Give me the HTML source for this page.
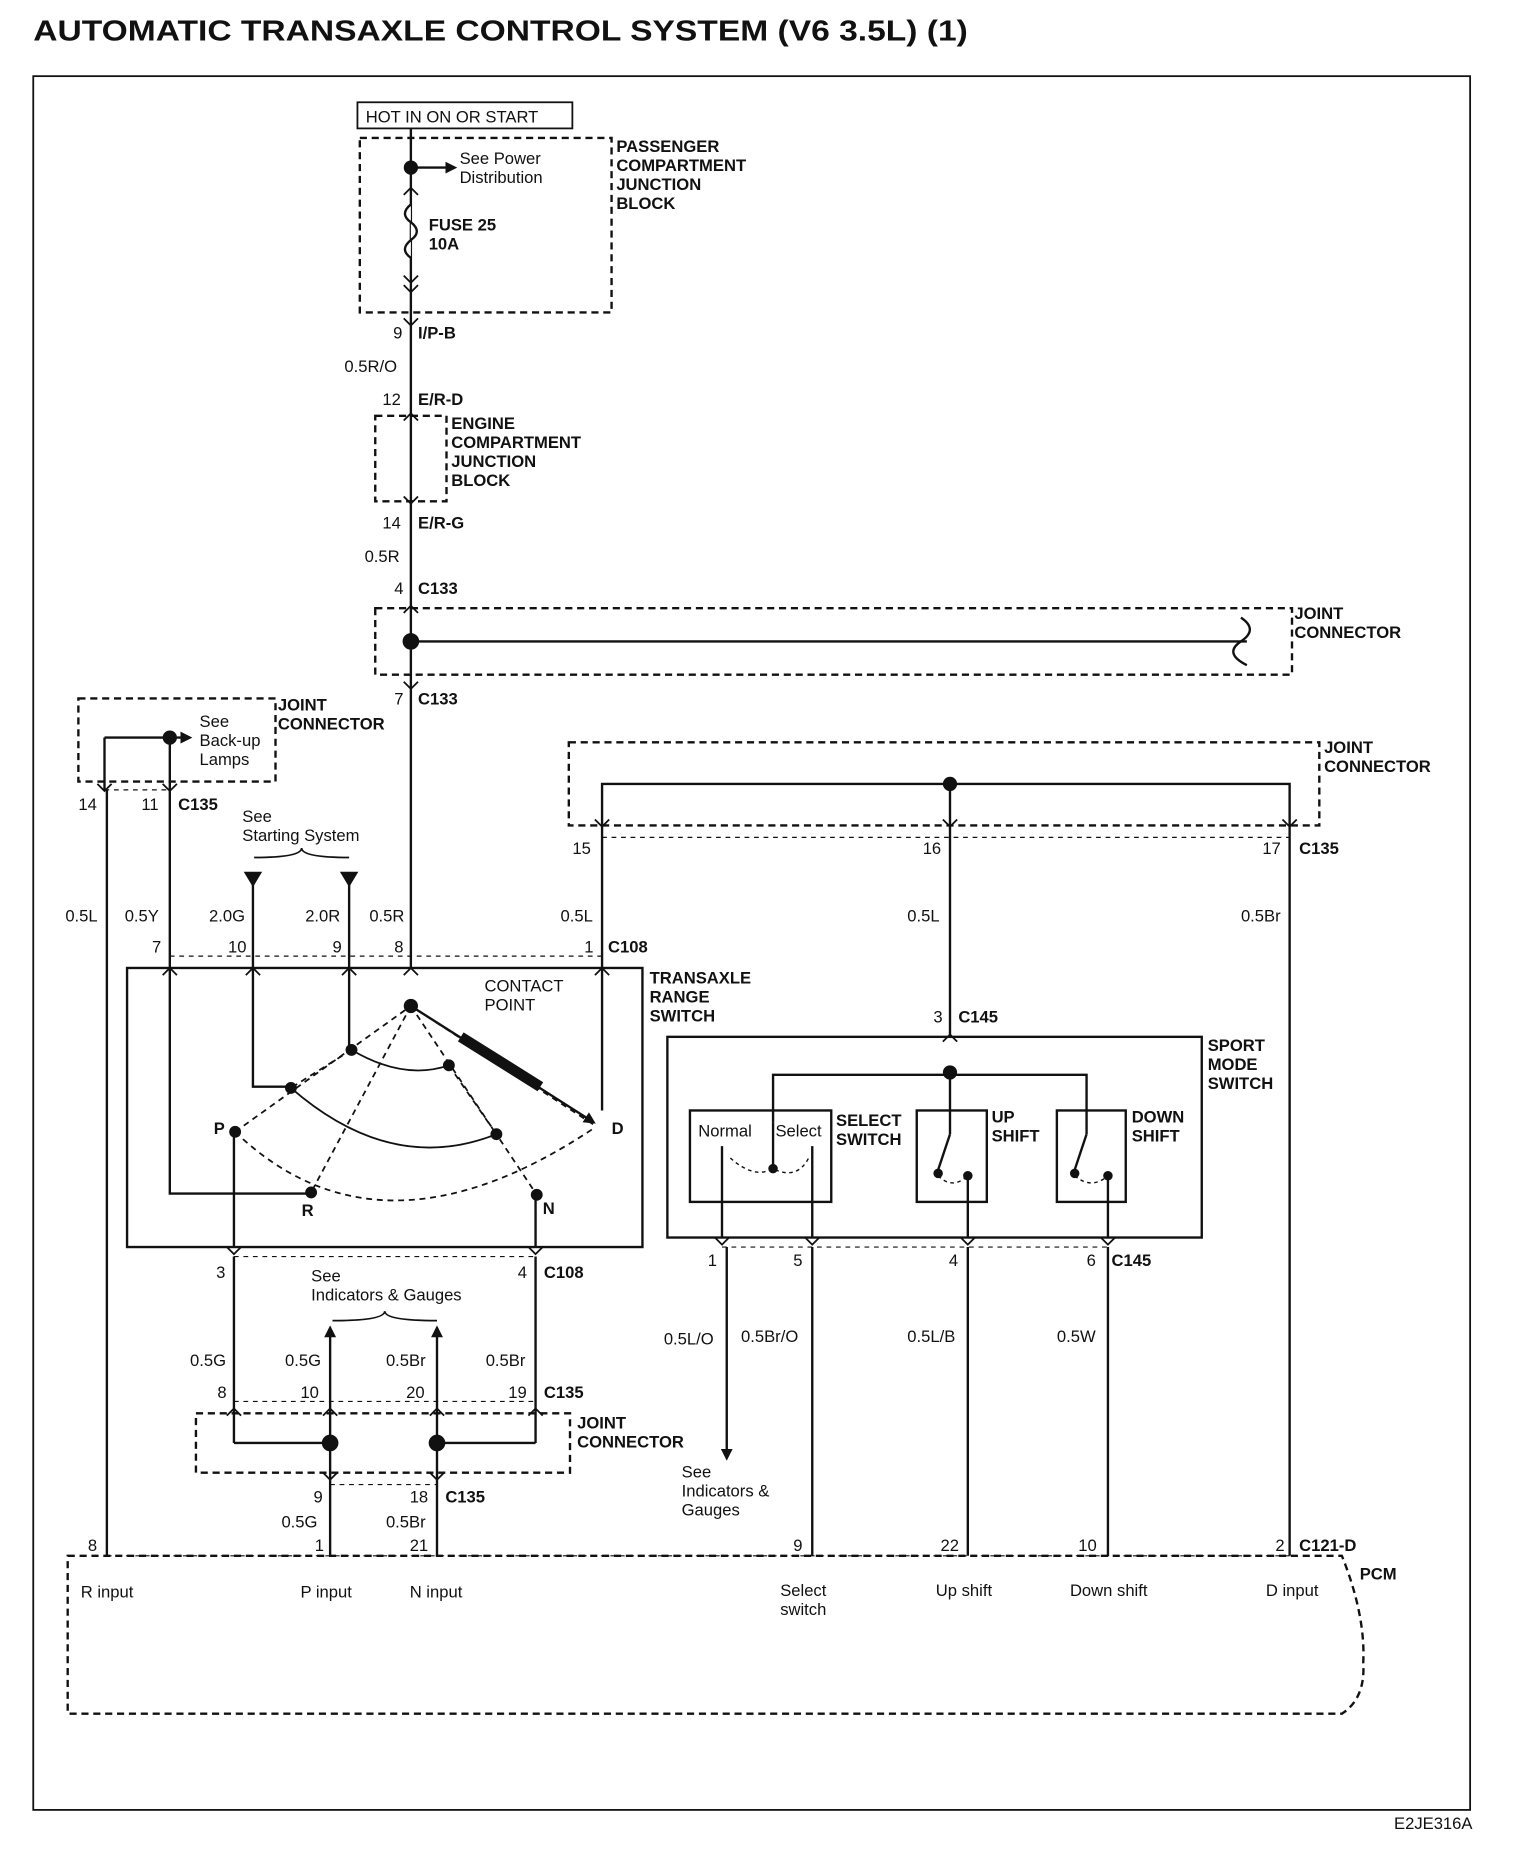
<!DOCTYPE html>
<html><head><meta charset="utf-8"><style>
html,body{margin:0;padding:0;background:#fff}
svg{display:block}
text{font-family:"Liberation Sans",Arial,sans-serif;font-size:14px;fill:#111}
.b{font-weight:bold}
.t{font-size:24px;font-weight:bold}
</style></head><body>
<svg width="1520" height="1854" viewBox="0 0 1280 1561" xmlns="http://www.w3.org/2000/svg">
<defs>
<marker id="ar" markerWidth="10" markerHeight="10" refX="8" refY="5" orient="auto" markerUnits="userSpaceOnUse"><path d="M0,0 L10,5 L0,10z" fill="#111"/></marker>
</defs>
<g stroke="#111" fill="none" stroke-width="2">
<text x="28" y="34" class="t" stroke="none" textLength="787" lengthAdjust="spacingAndGlyphs">AUTOMATIC TRANSAXLE CONTROL SYSTEM (V6 3.5L) (1)</text>
<rect x="28" y="64" width="1210" height="1460" stroke-width="1.5"/>
<rect x="301" y="86" width="181" height="22" stroke-width="1.5"/>
<g stroke-dasharray="6,4">
<rect x="303" y="116" width="212" height="147"/>
<rect x="316" y="350" width="60" height="72"/>
<rect x="316" y="512" width="772" height="56"/>
<rect x="66" y="588" width="166" height="70"/>
<rect x="479" y="625" width="632" height="70"/>
<rect x="165" y="1190" width="315" height="50"/>
<path d="M57,1310 H1130 Q1150,1360 1148,1400 Q1150,1430 1130,1443 H57 Z"/>
</g>
<g stroke-dasharray="4,4" stroke-width="1">
<line x1="143" y1="805" x2="508" y2="805"/>
<line x1="507" y1="705" x2="1086" y2="705"/>
<line x1="197" y1="1058" x2="451" y2="1058"/>
<line x1="608" y1="1050" x2="933" y2="1050"/>
<line x1="197" y1="1180" x2="451" y2="1180"/>
<line x1="278" y1="1250" x2="368" y2="1250"/>
<line x1="90" y1="1310" x2="1086" y2="1310"/>
<line x1="88" y1="665" x2="143" y2="665"/>
</g>
<line x1="346" y1="108" x2="346" y2="815"/>
<line x1="346" y1="141" x2="383" y2="141" marker-end="url(#ar)"/>
<path d="M346,172 q-10,8 0,15 q10,8 0,15 q-10,8 0,15" fill="#fff"/>
<line x1="346" y1="540" x2="1050" y2="540"/>
<path d="M1045,520 q15,10 0,20 q-15,10 5,20" fill="none"/>
<g stroke-width="1.5">
<path d="M340,164 l6,-6 6,6 M340,232 l6,6 6,-6 M340,240 l6,6 6,-6 M340,268 l6,6 6,-6 M340,354 l6,-6 6,6 M340,418 l6,6 6,-6 M340,516 l6,-6 6,6 M340,574 l6,6 6,-6 M82,660 l6,6 6,-6 M137,660 l6,6 6,-6 M501,690 l6,6 6,-6 M794,690 l6,6 6,-6 M1080,690 l6,6 6,-6 M137,821 l6,-6 6,6 M207,821 l6,-6 6,6 M288,821 l6,-6 6,6 M340,821 l6,-6 6,6 M501,821 l6,-6 6,6 M794,877 l6,-6 6,6 M191,1050 l6,6 6,-6 M445,1050 l6,6 6,-6 M602,1042 l6,6 6,-6 M678,1042 l6,6 6,-6 M809,1042 l6,6 6,-6 M927,1042 l6,6 6,-6 M191,1192 l6,-6 6,6 M272,1192 l6,-6 6,6 M362,1192 l6,-6 6,6 M445,1192 l6,-6 6,6 M272,1240 l6,6 6,-6 M362,1240 l6,6 6,-6"/>
</g>
<circle cx="346" cy="141" r="5" fill="#111"/>
<circle cx="346" cy="540" r="6" fill="#111"/>
<line x1="88" y1="621" x2="160" y2="621" marker-end="url(#ar)"/>
<line x1="88" y1="621" x2="88" y2="665"/>
<line x1="143" y1="621" x2="143" y2="665"/>
<circle cx="143" cy="621" r="5" fill="#111"/>
<line x1="90" y1="665" x2="90" y2="1310"/>
<line x1="143" y1="665" x2="143" y2="815"/>
<path d="M207,735 h12 l-6,10z M288,735 h12 l-6,10z" fill="#111"/>
<line x1="213" y1="740" x2="213" y2="815"/>
<line x1="294" y1="740" x2="294" y2="815"/>
<path d="M214,722 q40,0 40,-8 q0,8 40,8" stroke-width="1.5"/>
<path d="M507,690 V660 H1086 V690"/>
<line x1="800" y1="660" x2="800" y2="690"/>
<circle cx="800" cy="660" r="5" fill="#111"/>
<line x1="507" y1="690" x2="507" y2="815"/>
<line x1="800" y1="690" x2="800" y2="873"/>
<line x1="1086" y1="690" x2="1086" y2="1310"/>
<rect x="107" y="815" width="434" height="235"/>
<circle cx="346" cy="847" r="5" fill="#111"/>
<line x1="346" y1="847" x2="500" y2="945" marker-end="url(#ar)"/>
<line x1="388" y1="873" x2="455" y2="915" stroke-width="9"/>
<path d="M143,815 V1005 H260" /><circle cx="262" cy="1004" r="4" fill="#111"/>
<path d="M213,815 V915 H245"/><circle cx="245" cy="916" r="4" fill="#111"/>
<path d="M294,815 V884"/><circle cx="296" cy="884" r="4" fill="#111"/>
<path d="M507,815 V935"/>
<path d="M197,953 V1050"/><circle cx="198" cy="953" r="4" fill="#111"/>
<path d="M451,1005 V1050"/><circle cx="452" cy="1006" r="4" fill="#111"/>
<path d="M296,884 Q340,910 378,897" stroke-width="1.5"/><circle cx="378" cy="897" r="4" fill="#111"/>
<path d="M245,916 Q330,990 418,955" stroke-width="1.5"/><circle cx="418" cy="955" r="4" fill="#111"/>
<g stroke-dasharray="5,4" stroke-width="1.5">
<path d="M198,953 L346,847 L500,947"/>
<path d="M198,953 Q320,1070 500,950"/>
<path d="M346,847 L262,1004 M346,847 L452,1006 M296,884 L245,916 M378,897 L418,955"/>
</g>
<rect x="562" y="873" width="450" height="169"/>
<path d="M651,945 V905 H915 V935"/>
<line x1="800" y1="905" x2="800" y2="935"/>
<circle cx="800" cy="903" r="5" fill="#111"/>
<rect x="581" y="935" width="119" height="77"/>
<rect x="772" y="935" width="59" height="77"/>
<rect x="890" y="935" width="58" height="77"/>
<line x1="608" y1="965" x2="608" y2="1042"/>
<line x1="684" y1="965" x2="684" y2="1042"/>
<line x1="651" y1="945" x2="651" y2="985"/>
<circle cx="651" cy="984" r="3" fill="#111"/>
<path d="M615,975 q20,18 36,9 q20,10 30,-9" stroke-dasharray="3,3" stroke-width="1.2"/>
<line x1="800" y1="935" x2="800" y2="955"/><line x1="800" y1="955" x2="790" y2="985"/><circle cx="790" cy="988" r="3" fill="#111"/>
<path d="M815,990 V1042"/><circle cx="815" cy="990" r="3" fill="#111"/>
<path d="M790,990 q12,12 25,0" stroke-dasharray="3,3" stroke-width="1.2"/>
<line x1="915" y1="935" x2="915" y2="955"/><line x1="915" y1="955" x2="905" y2="985"/><circle cx="905" cy="988" r="3" fill="#111"/>
<path d="M933,990 V1042"/><circle cx="933" cy="990" r="3" fill="#111"/>
<path d="M905,990 q14,12 28,0" stroke-dasharray="3,3" stroke-width="1.2"/>
<line x1="612" y1="1050" x2="612" y2="1228" marker-end="url(#ar)"/>
<line x1="684" y1="1050" x2="684" y2="1310"/>
<line x1="815" y1="1050" x2="815" y2="1310"/>
<line x1="933" y1="1050" x2="933" y2="1310"/>
<line x1="197" y1="1058" x2="197" y2="1215"/>
<line x1="451" y1="1058" x2="451" y2="1215"/>
<path d="M197,1215 H278 M368,1215 H451"/>
<line x1="278" y1="1310" x2="278" y2="1118" marker-end="url(#ar)"/>
<line x1="368" y1="1310" x2="368" y2="1118" marker-end="url(#ar)"/>
<circle cx="278" cy="1215" r="6" fill="#111"/>
<circle cx="368" cy="1215" r="6" fill="#111"/>
<path d="M280,1112 q44,0 44,-8 q0,8 44,8" stroke-width="1.5"/>
</g>
<g>
<text x="308" y="103">HOT IN ON OR START</text>
<text x="387" y="138">See Power</text><text x="387" y="154">Distribution</text>
<text x="361" y="194" class="b">FUSE 25</text><text x="361" y="210" class="b">10A</text>
<text x="519" y="128" class="b">PASSENGER</text><text x="519" y="144" class="b">COMPARTMENT</text><text x="519" y="160" class="b">JUNCTION</text><text x="519" y="176" class="b">BLOCK</text>
<text x="331" y="285">9</text><text x="352" y="285" class="b">I/P-B</text>
<text x="290" y="313">0.5R/O</text>
<text x="322" y="341">12</text><text x="352" y="341" class="b">E/R-D</text>
<text x="380" y="361" class="b">ENGINE</text><text x="380" y="377" class="b">COMPARTMENT</text><text x="380" y="393" class="b">JUNCTION</text><text x="380" y="409" class="b">BLOCK</text>
<text x="322" y="445">14</text><text x="352" y="445" class="b">E/R-G</text>
<text x="307" y="473">0.5R</text>
<text x="332" y="500">4</text><text x="352" y="500" class="b">C133</text>
<text x="1090" y="521" class="b">JOINT</text><text x="1090" y="537" class="b">CONNECTOR</text>
<text x="332" y="593">7</text><text x="352" y="593" class="b">C133</text>
<text x="168" y="612">See</text><text x="168" y="628">Back-up</text><text x="168" y="644">Lamps</text>
<text x="234" y="598" class="b">JOINT</text><text x="234" y="614" class="b">CONNECTOR</text>
<text x="66" y="682">14</text><text x="119" y="682">11</text><text x="150" y="682" class="b">C135</text>
<text x="204" y="692">See</text><text x="204" y="708">Starting System</text>
<text x="1115" y="634" class="b">JOINT</text><text x="1115" y="650" class="b">CONNECTOR</text>
<text x="482" y="719">15</text><text x="777" y="719">16</text><text x="1063" y="719">17</text><text x="1094" y="719" class="b">C135</text>
<text x="55" y="776">0.5L</text><text x="105" y="776">0.5Y</text><text x="176" y="776">2.0G</text><text x="257" y="776">2.0R</text><text x="311" y="776">0.5R</text><text x="472" y="776">0.5L</text><text x="764" y="776">0.5L</text><text x="1045" y="776">0.5Br</text>
<text x="128" y="802">7</text><text x="192" y="802">10</text><text x="280" y="802">9</text><text x="332" y="802">8</text><text x="492" y="802">1</text><text x="512" y="802" class="b">C108</text>
<text x="547" y="828" class="b">TRANSAXLE</text><text x="547" y="844" class="b">RANGE</text><text x="547" y="860" class="b">SWITCH</text>
<text x="408" y="835">CONTACT</text><text x="408" y="851">POINT</text>
<text x="786" y="861">3</text><text x="807" y="861" class="b">C145</text>
<text x="1017" y="885" class="b">SPORT</text><text x="1017" y="901" class="b">MODE</text><text x="1017" y="917" class="b">SWITCH</text>
<text x="180" y="955" class="b">P</text><text x="515" y="955" class="b">D</text><text x="254" y="1024" class="b">R</text><text x="457" y="1022" class="b">N</text>
<text x="588" y="957" font-size="13">Normal</text><text x="653" y="957" font-size="13">Select</text>
<text x="704" y="948" class="b">SELECT</text><text x="704" y="964" class="b">SWITCH</text>
<text x="835" y="945" class="b">UP</text><text x="835" y="961" class="b">SHIFT</text>
<text x="953" y="945" class="b">DOWN</text><text x="953" y="961" class="b">SHIFT</text>
<text x="596" y="1066">1</text><text x="668" y="1066">5</text><text x="799" y="1066">4</text><text x="915" y="1066">6</text><text x="936" y="1066" class="b">C145</text>
<text x="182" y="1076">3</text><text x="436" y="1076">4</text><text x="458" y="1076" class="b">C108</text>
<text x="262" y="1079">See</text><text x="262" y="1095">Indicators &amp; Gauges</text>
<text x="559" y="1132">0.5L/O</text><text x="624" y="1130">0.5Br/O</text><text x="764" y="1130">0.5L/B</text><text x="890" y="1130">0.5W</text>
<text x="160" y="1150">0.5G</text><text x="240" y="1150">0.5G</text><text x="325" y="1150">0.5Br</text><text x="409" y="1150">0.5Br</text>
<text x="183" y="1177">8</text><text x="253" y="1177">10</text><text x="342" y="1177">20</text><text x="428" y="1177">19</text><text x="458" y="1177" class="b">C135</text>
<text x="486" y="1203" class="b">JOINT</text><text x="486" y="1219" class="b">CONNECTOR</text>
<text x="574" y="1244">See</text><text x="574" y="1260">Indicators &amp;</text><text x="574" y="1276">Gauges</text>
<text x="264" y="1265">9</text><text x="345" y="1265">18</text><text x="375" y="1265" class="b">C135</text>
<text x="237" y="1286">0.5G</text><text x="325" y="1286">0.5Br</text>
<text x="74" y="1306">8</text><text x="265" y="1306">1</text><text x="345" y="1306">21</text><text x="668" y="1306">9</text><text x="792" y="1306">22</text><text x="908" y="1306">10</text><text x="1074" y="1306">2</text><text x="1094" y="1306" class="b">C121-D</text>
<text x="1145" y="1330" class="b">PCM</text>
<text x="68" y="1345">R input</text><text x="253" y="1345">P input</text><text x="345" y="1345">N input</text>
<text x="657" y="1344">Select</text><text x="657" y="1360">switch</text>
<text x="788" y="1344">Up shift</text><text x="901" y="1344">Down shift</text><text x="1066" y="1344">D input</text>
<text x="1240" y="1540" text-anchor="end" font-size="11">E2JE316A</text>
</g>
</svg>
</body></html>
